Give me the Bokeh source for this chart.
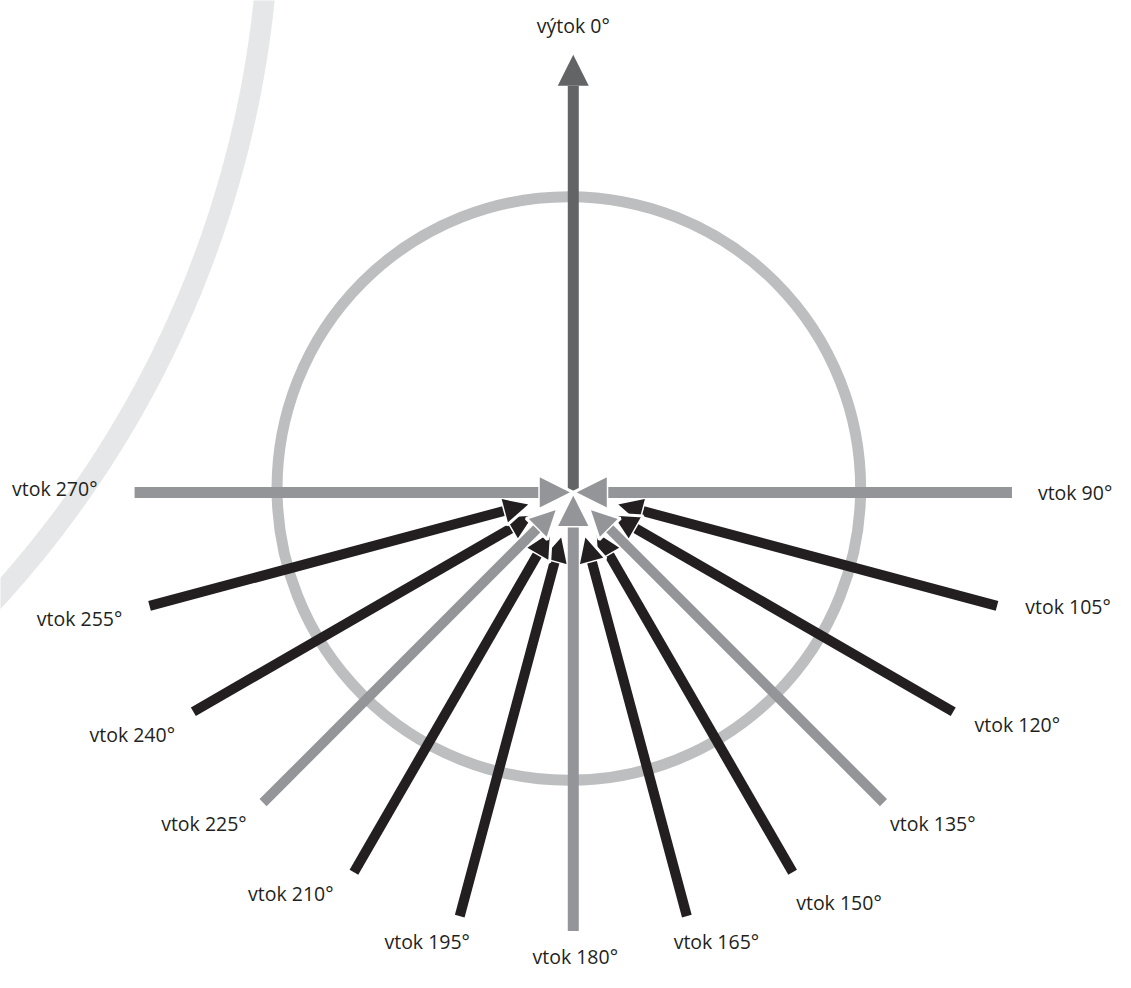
import numpy as np
from bokeh.plotting import figure
from bokeh.models import Range1d, Arrow, NormalHead, ColumnDataSource
from bokeh.core.properties import value
from bokeh.embed import file_html
from bokeh.resources import INLINE

# ---- data -------------------------------------------------------------
directions = [0, 90, 105, 120, 135, 150, 165, 180, 195, 210, 225, 240, 255, 270]
labels = ["výtok 0°", "vtok 90°", "vtok 105°", "vtok 120°", "vtok 135°",
          "vtok 150°", "vtok 165°", "vtok 180°", "vtok 195°", "vtok 210°",
          "vtok 225°", "vtok 240°", "vtok 255°", "vtok 270°"]
groups = ["outflow", "axis", "inflow", "inflow", "diagonal", "inflow", "inflow",
          "axis", "inflow", "inflow", "diagonal", "inflow", "inflow", "axis"]

# ---- layout / style ---------------------------------------------------
W, H = 1115, 972
VIEW_W, VIEW_H = 1131, 986   # drawing space (px of the design)
CX, CY = 581, 499            # point where arrows meet
R_OUT = 445                  # outer end of arrows
FONT = "Open Sans"
FS = "19.5px"
styles = {
    "outflow":  dict(color="#636466", width=11, head=31, tip=444, outline=None),
    "axis":     dict(color="#939598", width=11, head=35, tip=0, outline="white"),
    "diagonal": dict(color="#939598", width=10, head=30, tip=22, outline="white"),
    "inflow":   dict(color="#231f20", width=10, head=29, tip=44, outline="white"),
}
draw_order = ["outflow", "inflow", "diagonal", "axis"]
# label offset from the outer end of each arrow
label_offset = {0: (0, -30), 90: (64, 0), 105: (72, 1), 120: (65, 13),
                135: (50, 21), 150: (47, 31), 165: (30, 26), 180: (2, 26),
                195: (-33, 26), 210: (-64, 21), 225: (-60, 21),
                240: (-62, 23), 255: (-71, 13), 270: (-81, -4)}

p = figure(width=W, height=H, output_backend="svg", toolbar_location=None,
           x_range=Range1d(0, VIEW_W), y_range=Range1d(VIEW_H, 0),
           x_axis_type=None, y_axis_type=None, min_border=0,
           background_fill_color="white", border_fill_color="white")
p.grid.visible = False
p.outline_line_color = None

# decorative background arc
t = np.linspace(-0.12, 1.05, 300)
ax, ay, ar = -788, -109, 1061
p.line(ax + ar * np.cos(t), ay + ar * np.sin(t), line_color="#e6e7e8",
       line_width=21)

# ring
p.circle(x=[CX - 4.5], y=[CY - 4], radius=296, fill_color=None,
         line_color="#bcbec0", line_width=11)

ang = np.radians(np.array(directions, dtype=float))
dx, dy = np.sin(ang), -np.cos(ang)

for g in draw_order:
    st = styles[g]
    idx = [i for i, gg in enumerate(groups) if gg == g]
    if g == "outflow":
        r0 = np.zeros(len(idx)); r1 = np.full(len(idx), st["tip"])
    else:
        r0 = np.full(len(idx), R_OUT); r1 = np.full(len(idx), st["tip"])
    src = ColumnDataSource(dict(
        x0=CX + r0 * dx[idx], y0=CY + r0 * dy[idx],
        x1=CX + r1 * dx[idx], y1=CY + r1 * dy[idx]))
    head = NormalHead(size=st["head"], fill_color=st["color"],
                      line_color=st["outline"], line_width=3)
    p.add_layout(Arrow(x_start="x0", y_start="y0", x_end="x1", y_end="y1",
                       source=src, end=head, line_color=st["color"],
                       line_width=st["width"], line_cap="butt"))

# labels, placed beside the outer end of each arrow
lx, ly = [], []
for i, d in enumerate(directions):
    r = styles[groups[i]]["tip"] if groups[i] == "outflow" else R_OUT
    ox, oy = label_offset[d]
    lx.append(CX + r * dx[i] + ox)
    ly.append(CY + r * dy[i] + oy)
lsrc = ColumnDataSource(dict(x=lx, y=ly, text=labels))
p.text(x="x", y="y", text="text", source=lsrc, text_font=value(FONT),
       text_font_size=FS, text_align="center", text_baseline="middle",
       text_color="#231f20")

open("out.html", "w").write(file_html(p, INLINE))
